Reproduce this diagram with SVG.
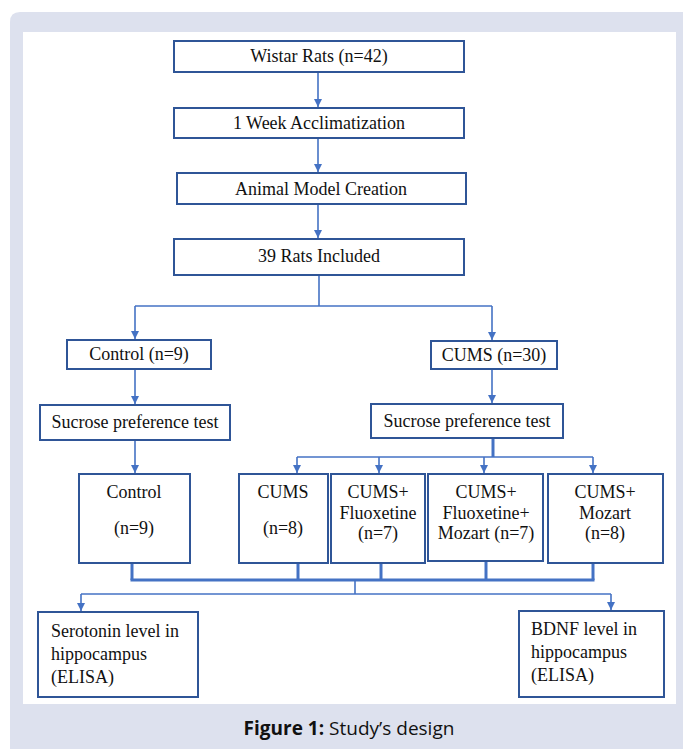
<svg xmlns="http://www.w3.org/2000/svg" width="683" height="749" viewBox="0 0 683 749">
<defs>
<marker id="ah" viewBox="0 0 10 10" refX="10" refY="5" markerWidth="5" markerHeight="5" markerUnits="strokeWidth" orient="auto">
<path d="M0,0 L10,5 L0,10 z" fill="#4472c4"/>
</marker>
<style>
.box{fill:#fff;stroke:#2f5597;stroke-width:2}
.t{font-family:"Liberation Serif","Times New Roman",serif;font-size:18px;fill:#111;text-anchor:middle}
.tl{font-family:"Liberation Serif","Times New Roman",serif;font-size:18px;fill:#111}
.c{fill:none;stroke:#4472c4;stroke-width:1.6}
.a{fill:none;stroke:#4472c4;stroke-width:1.6;marker-end:url(#ah)}
.thick{fill:none;stroke:#4472c4;stroke-width:3}
.cap{font-family:"Open Sans","Noto Sans",sans-serif;font-size:19px;fill:#111;text-anchor:middle}
</style>
</defs>
<path d="M10,22 Q10,12 20,12 L683,12 L683,749 L10,749 Z" fill="#dde1ee"/>
<rect x="23" y="32" width="653" height="672" fill="#fff"/>

<g id="connectors">
<line class="a" x1="318" y1="72" x2="318" y2="107"/>
<line class="a" x1="318" y1="138" x2="318" y2="172"/>
<line class="a" x1="318" y1="204" x2="318" y2="238"/>
<polyline class="c" points="319,275 319,306"/>
<polyline class="c" points="135,306 492,306"/>
<line class="a" x1="135" y1="306" x2="135" y2="339"/>
<line class="a" x1="492" y1="306" x2="492" y2="340"/>
<line class="a" x1="135" y1="369" x2="135" y2="404"/>
<line class="a" x1="492" y1="369" x2="492" y2="403"/>
<line class="a" x1="135" y1="440" x2="135" y2="473"/>
<line class="thick" x1="493" y1="438" x2="493" y2="457"/>
<polyline class="c" points="297,457 593,457"/>
<line class="a" x1="297" y1="457" x2="297" y2="473"/>
<line class="a" x1="379" y1="457" x2="379" y2="473"/>
<line class="a" x1="484" y1="457" x2="484" y2="473"/>
<line class="a" x1="593" y1="457" x2="593" y2="473"/>
<line class="thick" x1="132" y1="563" x2="132" y2="580"/>
<line class="thick" x1="298" y1="563" x2="298" y2="580"/>
<line class="thick" x1="381" y1="563" x2="381" y2="580"/>
<line class="thick" x1="486" y1="561" x2="486" y2="580"/>
<line class="thick" x1="593" y1="563" x2="593" y2="580"/>
<line class="thick" x1="130.5" y1="580" x2="594.5" y2="580"/>
<polyline class="c" points="355,580 355,594"/>
<polyline class="c" points="81,594 611,594"/>
<line class="a" x1="81" y1="594" x2="81" y2="611"/>
<line class="a" x1="611" y1="594" x2="611" y2="610"/>
</g>

<g id="n1"><rect class="box" x="174" y="41" width="290" height="31"/><text class="t" x="319" y="62">Wistar Rats (n=42)</text></g>
<g id="n2"><rect class="box" x="174" y="108" width="290" height="30"/><text class="t" x="319" y="129">1 Week Acclimatization</text></g>
<g id="n3"><rect class="box" x="177" y="173" width="289" height="31"/><text class="t" x="321" y="195">Animal Model Creation</text></g>
<g id="n4"><rect class="box" x="174" y="239" width="290" height="36"/><text class="t" x="319" y="262">39 Rats Included</text></g>
<g id="n5"><rect class="box" x="67" y="340" width="144" height="29"/><text class="t" x="139" y="360">Control (n=9)</text></g>
<g id="n6"><rect class="box" x="431" y="341" width="126" height="28"/><text class="t" x="494" y="361">CUMS (n=30)</text></g>
<g id="n7"><rect class="box" x="40" y="405" width="190" height="35"/><text class="t" x="135" y="428">Sucrose preference test</text></g>
<g id="n8"><rect class="box" x="371" y="404" width="192" height="34"/><text class="t" x="467" y="427">Sucrose preference test</text></g>
<g id="n9"><rect class="box" x="79" y="474" width="111" height="89"/><text class="t" x="134" y="498">Control</text><text class="t" x="134" y="534">(n=9)</text></g>
<g id="n10"><rect class="box" x="239" y="474" width="89" height="89"/><text class="t" x="283" y="498">CUMS</text><text class="t" x="283" y="534">(n=8)</text></g>
<g id="n11"><rect class="box" x="331" y="474" width="94" height="89"/><text class="t" x="378" y="498">CUMS+</text><text class="t" x="378" y="519">Fluoxetine</text><text class="t" x="378" y="539">(n=7)</text></g>
<g id="n12"><rect class="box" x="428" y="474" width="115" height="87"/><text class="t" x="486" y="498">CUMS+</text><text class="t" x="486" y="519">Fluoxetine+</text><text class="t" x="486" y="539">Mozart (n=7)</text></g>
<g id="n13"><rect class="box" x="548" y="474" width="115" height="89"/><text class="t" x="605" y="498">CUMS+</text><text class="t" x="605" y="519">Mozart</text><text class="t" x="605" y="539">(n=8)</text></g>
<g id="n14"><rect class="box" x="38" y="612" width="160" height="85"/><text class="tl" x="51" y="637">Serotonin level in</text><text class="tl" x="51" y="660">hippocampus</text><text class="tl" x="51" y="683">(ELISA)</text></g>
<g id="n15"><rect class="box" x="519" y="611" width="145" height="86"/><text class="tl" x="531" y="635">BDNF level in</text><text class="tl" x="531" y="658">hippocampus</text><text class="tl" x="531" y="681">(ELISA)</text></g>

<text class="cap" x="349" y="735"><tspan font-weight="bold">Figure 1:</tspan> Study’s design</text>
</svg>
